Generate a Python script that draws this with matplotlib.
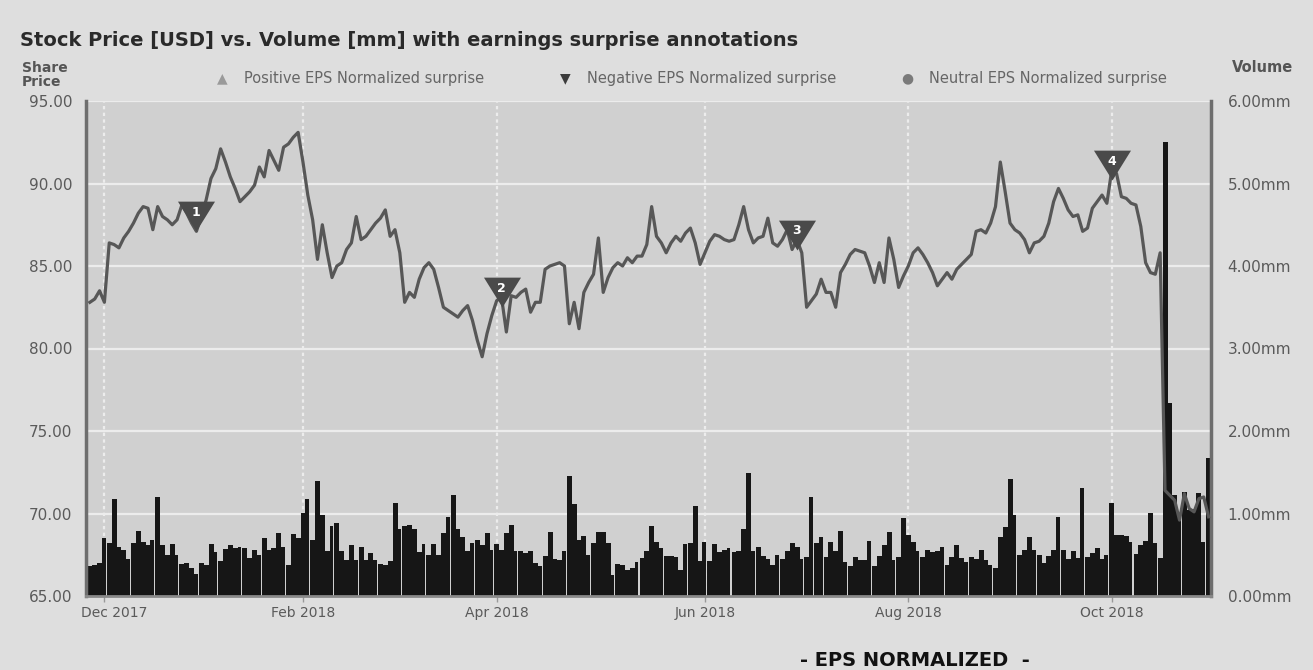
import numpy as np
import pandas as pd
import matplotlib
matplotlib.use("Agg")
import matplotlib.pyplot as plt
from matplotlib.path import Path
from matplotlib.transforms import ScaledTranslation

# ---------------- data ----------------
holidays = ['2017-12-25', '2018-01-01', '2018-01-15', '2018-02-19', '2018-03-30',
            '2018-05-28', '2018-07-04', '2018-09-03']
dates = pd.bdate_range('2017-11-28', '2018-10-29', freq='C', holidays=holidays)

price = [
    82.8, 83.0, 83.5, 82.8, 86.4, 86.3, 86.1, 86.7, 87.1, 87.6,
    88.2, 88.6, 88.5, 87.2, 88.6, 88.0, 87.8, 87.5, 87.8, 88.7,
    88.2, 87.6, 87.1, 88.0, 89.0, 90.3, 90.9, 92.1, 91.3, 90.4,
    89.7, 88.9, 89.2, 89.5, 89.9, 91.0, 90.4, 92.0, 91.4, 90.8,
    92.2, 92.4, 92.8, 93.1, 91.3, 89.3, 87.8, 85.4, 87.5, 85.8,
    84.3, 85.0, 85.2, 86.0, 86.4, 88.0, 86.6, 86.8, 87.2, 87.6,
    87.9, 88.4, 86.8, 87.2, 85.8, 82.8, 83.4, 83.1, 84.2, 84.9,
    85.2, 84.8, 83.7, 82.5, 82.3, 82.1, 81.9, 82.3, 82.6, 81.7,
    80.5, 79.5, 80.9, 82.0, 82.9, 83.1, 81.0, 83.2, 83.1, 83.4,
    83.6, 82.2, 82.8, 82.8, 84.8, 85.0, 85.1, 85.2, 85.0, 81.5,
    82.8, 81.2, 83.4, 84.0, 84.5, 86.7, 83.4, 84.3, 84.9, 85.2,
    85.0, 85.5, 85.2, 85.6, 85.6, 86.3, 88.6, 86.8, 86.4, 85.8,
    86.4, 86.8, 86.5, 87.0, 87.3, 86.4, 85.1, 85.8, 86.5, 86.9,
    86.8, 86.6, 86.5, 86.6, 87.5, 88.6, 87.2, 86.4, 86.7, 86.8,
    87.9, 86.4, 86.2, 86.6, 87.2, 86.0, 86.6, 85.8, 82.5, 82.9,
    83.3, 84.2, 83.4, 83.4, 82.5, 84.6, 85.1, 85.7, 86.0, 85.9,
    85.8, 85.0, 84.0, 85.2, 84.0, 86.7, 85.4, 83.7, 84.4, 85.0,
    85.8, 86.1, 85.7, 85.2, 84.6, 83.8, 84.2, 84.6, 84.2, 84.8,
    85.1, 85.4, 85.7, 87.1, 87.2, 87.0, 87.6, 88.6, 91.3, 89.5,
    87.6, 87.2, 87.0, 86.6, 85.8, 86.4, 86.5, 86.8, 87.6, 88.9,
    89.7, 89.1, 88.4, 88.0, 88.1, 87.1, 87.3, 88.5, 88.9, 89.3,
    88.8, 90.8, 90.6, 89.2, 89.1, 88.8, 88.7, 87.4, 85.2, 84.6,
    84.5, 85.8, 71.4, 71.1, 70.8, 69.6, 71.2, 70.3, 70.1, 70.9,
    71.0, 69.8,
]

volume_mm = [
    0.36, 0.37, 0.40, 0.70, 0.64, 1.17, 0.60, 0.56, 0.45, 0.64,
    0.79, 0.66, 0.62, 0.68, 1.20, 0.62, 0.50, 0.63, 0.50, 0.39,
    0.40, 0.34, 0.27, 0.40, 0.38, 0.63, 0.53, 0.42, 0.57, 0.62,
    0.58, 0.60, 0.58, 0.46, 0.56, 0.50, 0.70, 0.56, 0.58, 0.76,
    0.60, 0.38, 0.75, 0.70, 1.01, 1.17, 0.68, 1.39, 0.98, 0.54,
    0.85, 0.88, 0.54, 0.44, 0.62, 0.44, 0.59, 0.44, 0.52, 0.44,
    0.39, 0.37, 0.42, 1.13, 0.81, 0.85, 0.86, 0.81, 0.53, 0.63,
    0.50, 0.63, 0.50, 0.76, 0.96, 1.22, 0.81, 0.72, 0.55, 0.64,
    0.68, 0.62, 0.76, 0.56, 0.63, 0.56, 0.76, 0.86, 0.54, 0.55,
    0.52, 0.54, 0.40, 0.36, 0.49, 0.77, 0.45, 0.44, 0.55, 1.45,
    1.12, 0.68, 0.73, 0.50, 0.64, 0.77, 0.78, 0.64, 0.25, 0.39,
    0.38, 0.32, 0.34, 0.41, 0.46, 0.55, 0.85, 0.66, 0.58, 0.48,
    0.49, 0.47, 0.32, 0.63, 0.64, 1.09, 0.43, 0.66, 0.43, 0.63,
    0.53, 0.56, 0.58, 0.53, 0.54, 0.81, 1.49, 0.54, 0.59, 0.48,
    0.45, 0.38, 0.50, 0.45, 0.54, 0.64, 0.59, 0.45, 0.47, 1.20,
    0.64, 0.72, 0.47, 0.66, 0.55, 0.79, 0.41, 0.36, 0.47, 0.44,
    0.44, 0.67, 0.36, 0.48, 0.62, 0.78, 0.44, 0.47, 0.94, 0.74,
    0.66, 0.54, 0.47, 0.56, 0.53, 0.54, 0.59, 0.37, 0.47, 0.62,
    0.46, 0.41, 0.47, 0.45, 0.56, 0.44, 0.38, 0.34, 0.71, 0.84,
    1.42, 0.98, 0.50, 0.56, 0.72, 0.56, 0.50, 0.40, 0.49, 0.56,
    0.96, 0.56, 0.45, 0.54, 0.46, 1.31, 0.47, 0.52, 0.58, 0.45,
    0.50, 1.13, 0.74, 0.74, 0.73, 0.66, 0.51, 0.62, 0.67, 1.01,
    0.64, 0.46, 5.50, 2.34, 1.22, 1.00, 1.26, 1.04, 1.05, 1.25,
    0.65, 1.67,
]

eps_dates = ['2017-12-29', '2018-04-03', '2018-06-28', '2018-10-01']
eps_flag_level = [87.1, 82.5, 86.0, 90.2]   # price level where each flag's tip sits
eps_labels = ['1', '2', '3', '4']

tick_months = ['2017-12-01', '2018-02-01', '2018-04-01', '2018-06-01',
               '2018-08-01', '2018-10-01']

left_ticks = [65, 70, 75, 80, 85, 90, 95]
right_ticks = [0, 1, 2, 3, 4, 5, 6]

title = "Stock Price [USD] vs. Volume [mm] with earnings surprise annotations"

# ---------------- figure ----------------
FIG_BG = '#dedede'
AX_BG = '#d0d0d0'
GRID = '#ececec'
TXT = '#5a5a5a'

fig = plt.figure(figsize=(13.13, 6.70), dpi=100, facecolor=FIG_BG)
W, H = 1313, 670
L, R, T, B = 86, 1211, 101, 596
axv = fig.add_axes([L / W, 1 - B / H, (R - L) / W, (B - T) / H])
ax = fig.add_axes(axv.get_position(), sharex=axv)
ax.patch.set_visible(False)
axv.set_facecolor(AX_BG)

n = len(dates)
idx = np.arange(n)

# weekly separation in the volume bars
gap = np.zeros(n, dtype=bool)
gap[:-1] = (dates[1:] - dates[:-1]).days > 1
widths = np.where(gap, 0.78, 1.03)
axv.bar(idx - 0.5, volume_mm, width=widths, align='edge', color='#161616',
        linewidth=0, zorder=2)
axv.set_ylim(0, 6)
axv.set_yticks(right_ticks)
axv.set_yticklabels([f"{v:.2f}mm" for v in right_ticks])
axv.yaxis.tick_right()
axv.yaxis.set_label_position('right')

# ticks
tick_idx = [int(np.searchsorted(dates, pd.Timestamp(m))) for m in tick_months]
axv.set_xticks(tick_idx)
axv.set_xticklabels([dates[i].strftime('%b %Y') for i in tick_idx])
axv.set_xlim(-0.8, n - 0.5)

axv.grid(True, axis='y', color=GRID, linewidth=1.6, zorder=0)
axv.grid(True, axis='x', color=GRID, linewidth=1.6, linestyle=(0, (1.5, 1.5)), zorder=0)
axv.set_axisbelow(True)

# price line
ax.plot(idx, price, color='#575757', linewidth=2.3, zorder=3, solid_joinstyle='round')
ax.set_ylim(65, 95)
ax.set_yticks(left_ticks)
ax.set_yticklabels([f"{v:.2f}" for v in left_ticks])

# earnings markers (apex at the flag level)
tri = Path([(-0.62, 1.0), (0.62, 1.0), (0.0, 0.0), (-0.62, 1.0)],
           [Path.MOVETO, Path.LINETO, Path.LINETO, Path.CLOSEPOLY])
for d, lvl, lab in zip(eps_dates, eps_flag_level, eps_labels):
    i = int(np.searchsorted(dates, pd.Timestamp(d)))
    ax.plot([i], [lvl], linestyle='none', marker=tri, markersize=43,
            color='#4a4a4a', markeredgewidth=0, zorder=5)
    ax.annotate(lab, xy=(i, lvl), xytext=(0, 13.5), textcoords='offset points',
                ha='center', va='center', color='white', fontsize=9,
                fontweight='bold', zorder=6)

# spines / tick style
for s in ('left', 'right', 'bottom', 'top'):
    ax.spines[s].set_visible(False)
axv.spines['top'].set_visible(False)
axv.spines['left'].set_color('#6e6e6e')
axv.spines['left'].set_linewidth(2.5)
axv.spines['right'].set_color('#6e6e6e')
axv.spines['right'].set_linewidth(2.5)
axv.spines['bottom'].set_color('#8a8a8a')
axv.spines['bottom'].set_linewidth(2.0)

ax.tick_params(axis='y', length=0, pad=10, labelsize=11, labelcolor=TXT)
ax.tick_params(axis='x', bottom=False, labelbottom=False)
axv.tick_params(axis='y', length=0, pad=12, labelsize=11, labelcolor=TXT)
axv.tick_params(axis='x', length=4, width=1, color='#999999', pad=3,
                labelsize=10, labelcolor=TXT)

# keep the first date label inside the plot area (as in the reference)
first_lab = axv.get_xticklabels()[0]
first_lab.set_transform(first_lab.get_transform() +
                        ScaledTranslation(0.10, 0, fig.dpi_scale_trans))

# ---------------- texts ----------------
fig.text(20 / W, 1 - 40 / H, title, fontsize=14, fontweight='bold',
         color='#2a2a2a', ha='left', va='center')
fig.text(22 / W, 1 - 75 / H, "Share\nPrice", fontsize=10, fontweight='bold',
         color='#555555', ha='left', va='center', linespacing=0.95)
fig.text(1293 / W, 1 - 68 / H, "Volume", fontsize=10.5, fontweight='bold',
         color='#555555', ha='right', va='center')

legend_items = [
    (222, '\u25B2', '#9a9a9a', "Positive EPS Normalized surprise"),
    (565, '\u25BC', '#3c3c3c', "Negative EPS Normalized surprise"),
    (907, '\u25CF', '#7a7a7a', "Neutral EPS Normalized surprise"),
]
for x, sym, col, lab in legend_items:
    fig.text(x / W, 1 - 78 / H, sym, fontsize=10, color=col, ha='center', va='center')
    fig.text((x + 22) / W, 1 - 78 / H, lab, fontsize=10.5, color='#666666',
             ha='left', va='center')

fig.text(915 / W, 1 - 661 / H, "- EPS NORMALIZED  -", fontsize=14,
         fontweight='bold', color='#111111', ha='center', va='center')

fig.savefig('out.png', dpi=100, facecolor=FIG_BG)
